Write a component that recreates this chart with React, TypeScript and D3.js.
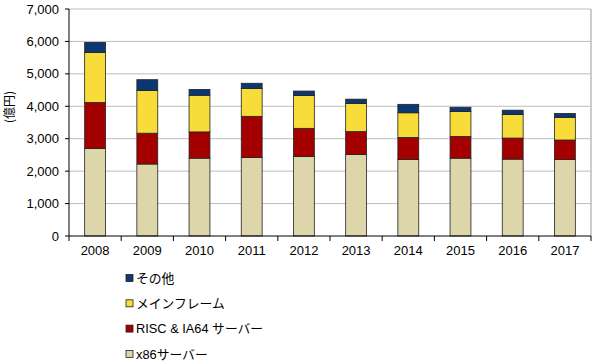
import React from "react";
import * as d3 from "d3";

const years = ["2008", "2009", "2010", "2011", "2012", "2013", "2014", "2015", "2016", "2017"];
const x86 = [2700, 2220, 2400, 2420, 2450, 2510, 2360, 2400, 2370, 2360];
const risc = [1420, 950, 810, 1270, 870, 710, 680, 670, 650, 600];
const mainframe = [1540, 1320, 1130, 860, 1010, 870, 760, 770, 730, 700];
const others = [310, 330, 180, 160, 140, 130, 260, 130, 130, 120];
const yTicks = [0, 1000, 2000, 3000, 4000, 5000, 6000, 7000];

const seriesNames = ["x86サーバー", "RISC & IA64 サーバー", "メインフレーム", "その他"];
const seriesColors = ["#DDD6AB", "#A50000", "#F7DC3A", "#0B3773"];

const W = 600, H = 364;
const left = 69, right = 591, top = 9, bottom = 236;

export default function App() {
  const x = d3.scaleBand<string>().domain(years).range([left, right]).paddingInner(0.6).paddingOuter(0.3);
  const y = d3.scaleLinear().domain([0, 7000]).range([bottom, top]);
  const data = years.map((yr, i) => ({ year: yr, s0: x86[i], s1: risc[i], s2: mainframe[i], s3: others[i] }));
  const stack = d3.stack<any>().keys(["s0", "s1", "s2", "s3"])(data);
  const fmt = d3.format(",");
  const step = (right - left) / years.length;
  const font = "Liberation Sans, Arial, sans-serif";
  const legendOrder = [3, 2, 1, 0];
  return (
    <svg width={W} height={H} style={{ position: "absolute", left: 0, top: 0, background: "#fff" }} fontFamily={font}>
      {yTicks.slice(1).map((t) => (
        <line key={t} x1={left} x2={right} y1={y(t)} y2={y(t)} stroke="#BDBDBD" strokeWidth={1} />
      ))}
      <line x1={right} x2={right} y1={top} y2={bottom} stroke="#BDBDBD" strokeWidth={1.5} />
      {stack.map((layer, si) =>
        layer.map((d, i) => (
          <rect
            key={si + "-" + i}
            x={x(years[i])!}
            y={y(d[1])}
            width={x.bandwidth()}
            height={y(d[0]) - y(d[1])}
            fill={seriesColors[si]}
            stroke="#222"
            strokeWidth={0.8}
          />
        ))
      )}
      <line x1={left} x2={left} y1={top} y2={bottom} stroke="#000" strokeWidth={1} />
      <line x1={left} x2={right} y1={bottom} y2={bottom} stroke="#000" strokeWidth={1} />
      {yTicks.map((t) => (
        <g key={t}>
          <line x1={left - 4} x2={left} y1={y(t)} y2={y(t)} stroke="#000" />
          <text x={left - 10} y={y(t)} dy="0.35em" textAnchor="end" fontSize={13} fill="#000">
            {fmt(t)}
          </text>
        </g>
      ))}
      {d3.range(years.length + 1).map((i) => (
        <line key={i} x1={left + i * step} x2={left + i * step} y1={bottom} y2={bottom + 5} stroke="#000" />
      ))}
      {years.map((yr) => (
        <text key={yr} x={x(yr)! + x.bandwidth() / 2} y={bottom + 19} textAnchor="middle" fontSize={13} fill="#000">
          {yr}
        </text>
      ))}
      <text
        transform={`translate(10,107) rotate(-90)`}
        textAnchor="middle"
        dy="0.35em"
        fontSize={12}
        fontFamily="Noto Sans CJK JP, sans-serif"
        fill="#000"
      >
        (億円)
      </text>
      {legendOrder.map((si, k) => (
        <g key={si} transform={`translate(126, ${278 + k * 25.3})`}>
          <rect x={0} y={-3.5} width={7} height={7} fill={seriesColors[si]} stroke="#222" strokeWidth={0.8} />
          <text x={10} y={0} dy="0.38em" fontSize={12.8} fill="#000" fontFamily="Liberation Sans, Noto Sans CJK JP, sans-serif">
            {seriesNames[si]}
          </text>
        </g>
      ))}
    </svg>
  );
}
